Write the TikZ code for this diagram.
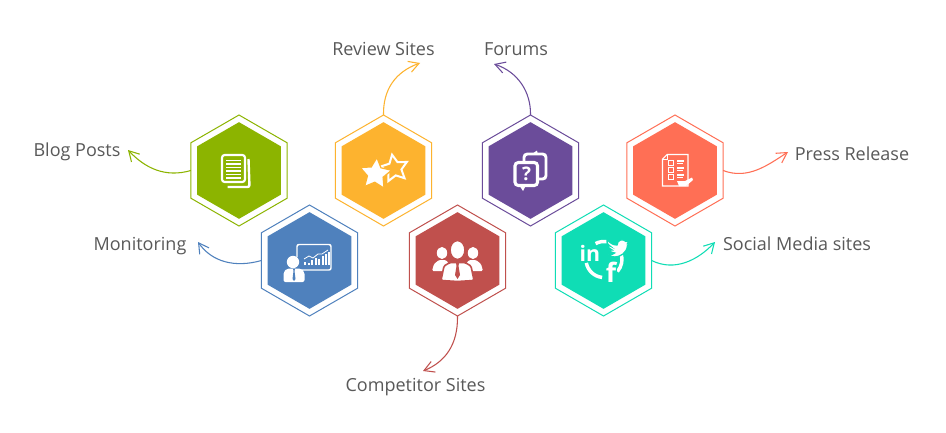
\documentclass[tikz,border=0pt]{standalone}
\usepackage{fontspec}
\setmainfont{Open Sans}
\usetikzlibrary{shapes.geometric,arrows.meta}
\definecolor{cgreen}{HTML}{8CB400}
\definecolor{camber}{HTML}{FDB32F}
\definecolor{cpurple}{HTML}{6B4C9A}
\definecolor{ccoral}{HTML}{FF6F55}
\definecolor{cblue}{HTML}{4F81BD}
\definecolor{cred}{HTML}{C0504D}
\definecolor{cteal}{HTML}{0FDDB5}
\definecolor{ctext}{HTML}{595959}
\tikzset{
  outerhex/.style={regular polygon,regular polygon sides=6,shape border rotate=30,minimum size=83.25pt,inner sep=0pt,outer sep=0pt,draw=#1,fill=white,line width=0.75pt},
  innerhex/.style={regular polygon,regular polygon sides=6,shape border rotate=30,minimum size=72.5pt,inner sep=0pt,outer sep=0pt,fill=#1},
  lbl/.style={text=ctext,font=\fontsize{13.5pt}{16pt}\selectfont,inner sep=0pt},
  conn/.style={draw=#1,line width=0.8pt,-{Straight Barb[length=7.5pt,width=8.5pt,line width=0.8pt]}},
  wline/.style={draw=white,line width=#1},
}
% five-pointed star path: centre x, centre y, outer radius, rotation
\newcommand{\fivestar}[4]{plot[samples at={0,...,9}] ({#1+(mod(\x,2)<0.5 ? #3 : 0.5*#3)*cos(#4+36*\x)},{#2+(mod(\x,2)<0.5 ? #3 : 0.5*#3)*sin(#4+36*\x)}) -- cycle}
\begin{document}
\begin{tikzpicture}[x=0.75pt,y=-0.75pt]
\useasboundingbox (0,0) rectangle (946,432);
\fill[white] (0,0) rectangle (946,432);

% hexagons
\node[outerhex=cgreen] (h1) at (239,170.5) {};
\node[outerhex=camber] (h2) at (383.5,170.5) {};
\node[outerhex=cpurple] (h3) at (530.5,170.5) {};
\node[outerhex=ccoral] (h4) at (675,170.5) {};
\node[outerhex=cblue] (h5) at (309.5,260.5) {};
\node[outerhex=cred] (h6) at (457.5,260.5) {};
\node[outerhex=cteal] (h7) at (603.5,260.5) {};
\node[innerhex=cgreen] (i1) at (h1.center) {};
\node[innerhex=camber] (i2) at (h2.center) {};
\node[innerhex=cpurple] (i3) at (h3.center) {};
\node[innerhex=ccoral] (i4) at (h4.center) {};
\node[innerhex=cblue] (i5) at (h5.center) {};
\node[innerhex=cred] (i6) at (h6.center) {};
\node[innerhex=cteal] (i7) at (h7.center) {};

% labels
\node[lbl] (l1) at (77,152) {Blog Posts};
\node[lbl] (l2) at (383.5,49) {Review Sites};
\node[lbl] (l3) at (516,49) {Forums};
\node[lbl] (l4) at (852,154) {Press Release};
\node[lbl] (l5) at (140,246) {Monitoring};
\node[lbl] (l6) at (415.5,387) {Competitor Sites};
\node[lbl] (l7) at (797,244) {Social Media sites};

% free arrow ends
\coordinate (t1) at (128,150);
\coordinate (t2) at (420,63);
\coordinate (t3) at (494,64);
\coordinate (t4) at (788,152);
\coordinate (t5) at (198,242);
\coordinate (t6) at (423,371);
\coordinate (t7) at (715,242);

% connectors
\draw[conn=cgreen] (h1.west) .. controls (165,178) and (145,168) .. (t1);
\draw[conn=camber] (h2.north) .. controls (383,90) and (395,72) .. (t2);
\draw[conn=cpurple] (h3.north) .. controls (531,92) and (518,72) .. (t3);
\draw[conn=ccoral] (h4.east) .. controls (748,180) and (768,165) .. (t4);
\draw[conn=cblue] (h5.west) .. controls (235,268) and (212,262) .. (t5);
\draw[conn=cred] (h6.south) .. controls (458,345) and (445,362) .. (t6);
\draw[conn=cteal] (h7.east) .. controls (675,272) and (698,260) .. (t7);

% document icon
\draw[wline=1.8pt,rounded corners=1.5pt] (248.5,159) -- (249.5,187) -- (227.5,187);
\draw[wline=1.6pt,rounded corners=2pt] (222,155) rectangle (245,182);
\foreach \yy in {160.5,164,167.5,171,174.5,178}
  \draw[wline=0.8pt] (226,\yy) -- (241,\yy);

% stars icon
\draw[wline=1.5pt,line join=miter] \fivestar{394.5}{168.5}{14}{-100};
\filldraw[fill=white,draw=camber,line width=0.9pt,line join=miter] \fivestar{375.5}{174}{16.5}{-85};

% question icon
\draw[wline=2.2pt,rounded corners=2.5pt] (524,154) rectangle (546,179);
\fill[white] (532,154) -- (538,155) -- (537,150.5) -- cycle;
\draw[wline=2.3pt,fill=cpurple,rounded corners=2.5pt] (515,162.5) rectangle (537.5,185.5);
\fill[white] (519,185) -- (526,185) -- (523,191) -- cycle;
\node[text=white,font=\fontsize{14pt}{14pt}\bfseries\selectfont,inner sep=0pt] (q) at (526.5,174) {?};

% list icon
\draw[wline=0.8pt] (667,154.5) -- (688,154.5) -- (688,186) -- (662.5,186) -- (662.5,159) -- cycle;
\draw[wline=0.6pt] (667,154.5) -- (667,159) -- (662.5,159);
\foreach \yy in {163,170,177}{
  \draw[wline=0.6pt] (668,\yy-2.5) rectangle (673,\yy+2.5);
  \draw[wline=0.8pt] (677,\yy-2) -- (684,\yy-2);
  \draw[wline=0.8pt] (677,\yy+0.5) -- (683,\yy+0.5);
}
\fill[white] (677,181) -- (685,181) -- (692,177.5) -- (693,180) -- (686,186) -- (679,186) -- cycle;

% chart icon
\draw[wline=1.1pt,rounded corners=1.5pt] (300,270) -- (331,270) -- (331,244.5) -- (297,244.5) -- (297,257);
\foreach \xx/\yy in {304/262,308/262.5,311/260,314.5/258,318/259,321.5/256,325/254,328/252}
  \fill[white] (\xx,\yy) rectangle +(2.2,264.5-\yy);
\draw[wline=0.6pt] (304,259) -- (309,256) -- (313,258) -- (318,254) -- (322,254) -- (328,250);
\fill[white] (293,262) circle[radius=6.2];
\fill[white,rounded corners=1.5pt] (283.5,282) -- (283.5,272) -- (287,268.5) -- (301,268.5) -- (304.5,272) -- (304.5,282) -- cycle;
\fill[cblue] (293,269) -- (295,269) -- (294.5,271) -- (295.5,279) -- (294,281) -- (292.5,279) -- (293.5,271) -- cycle;

% people icon
\fill[white] (442,253) ellipse[x radius=5.2,y radius=6];
\fill[white] (473,253) ellipse[x radius=5.2,y radius=6];
\fill[white,rounded corners=1pt] (432,271) -- (434,264) -- (439,260) -- (446,260) -- (449,264) -- (449,271) -- cycle;
\fill[white,rounded corners=1pt] (483,271) -- (481,264) -- (476,260) -- (469,260) -- (466,264) -- (466,271) -- cycle;
\filldraw[fill=white,draw=cred,line width=1.2pt] (457.5,250) ellipse[x radius=7.5,y radius=9.5];
\filldraw[fill=white,draw=cred,line width=1.2pt,rounded corners=1pt] (441,280.5) -- (444,266) -- (450,262.5) -- (465,262.5) -- (471,266) -- (474,280.5) -- (457.5,281.5) -- cycle;
\fill[cred] (456,263) -- (459,263) -- (458.5,266) -- (460,275) -- (457.5,279) -- (455,275) -- (456.5,266) -- cycle;

% social icon (y axis points down, so screen angles are negated)
\draw[wline=2.6pt] (604,259.5) ++(-118:18) arc[start angle=-118,end angle=-81,radius=18];
\draw[wline=2.6pt] (604,259.5) ++(-20:18) arc[start angle=-20,end angle=42,radius=18];
\draw[wline=2.6pt] (604,259.5) ++(96:18) arc[start angle=96,end angle=169,radius=18];
\node[text=white,font=\fontsize{16pt}{16pt}\bfseries\selectfont,inner sep=0pt] (ln) at (590,253) {in};
\node[fill=cteal,text=white,font=\fontsize{20pt}{20pt}\bfseries\selectfont,inner sep=0.5pt] (fb) at (611,272) {f};
\filldraw[fill=white,draw=cteal,line width=1pt] (607,239.5) .. controls (610,243) and (613,245) .. (617,245) .. controls (617,240) and (623,238) .. (626,241.5)
  -- (629,240.5) -- (627.5,243.5) -- (630,243) -- (627.5,245.5) .. controls (627,253) and (620,257) .. (615,257)
  .. controls (612,257) and (610,256.5) .. (608,255) .. controls (611,255) and (613,254.5) .. (614.5,253)
  .. controls (612,253) and (610,251.5) .. (609.5,250) -- (612,250) .. controls (609,249) and (608,247) .. (608,245)
  -- (610,246) .. controls (607,244) and (606.5,242) .. (607,239.5) -- cycle;
\end{tikzpicture}
\end{document}
